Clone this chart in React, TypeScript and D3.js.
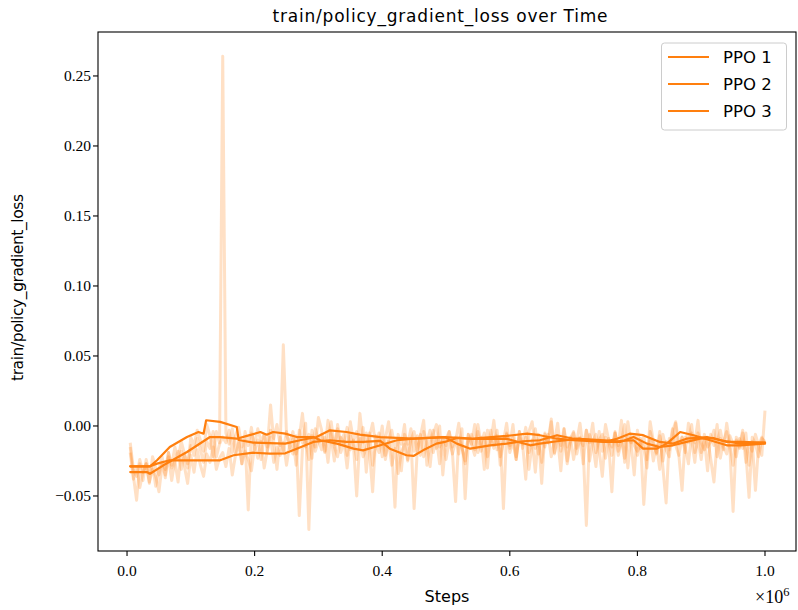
import React from "react";
import * as d3 from "d3";

const W = 798;
const H = 610;
const M = { left: 98, right: 796, top: 32, bottom: 551 };

const titleText = "train/policy_gradient_loss over Time";
const xLabel = "Steps";
const yLabel = "train/policy_gradient_loss";
const seriesNames = ["PPO 1", "PPO 2", "PPO 3"];
const xTicks = [0, 0.2, 0.4, 0.6, 0.8, 1.0];
const yTicks = [-0.05, 0, 0.05, 0.1, 0.15, 0.2, 0.25];

// raw logged values, 200 per run, evenly spaced from 0.005M to 1.0M steps
const raw1 = [
  -.012,-.031,-.036,-.024,-.033,-.027,-.041,-.022,-.030,-.035,
  -.026,-.031,-.019,-.028,-.015,-.024,-.011,-.020,-.030,-.008,
  -.014,-.003,-.010,-.018,.001,-.007,-.022,-.004,-.012,.264,
  -.005,-.013,-.002,-.020,-.009,-.027,-.004,-.014,-.001,-.017,
  -.010,-.024,-.006,-.015,.015,-.011,-.031,-.008,-.018,-.004,
  -.016,-.009,-.028,-.003,-.012,.002,-.074,-.007,-.015,.006,
  -.003,-.018,.004,-.009,-.025,.001,-.012,-.006,-.021,.003,
  -.011,-.004,-.016,-.001,-.033,-.008,.002,-.014,-.005,-.022,
  -.009,.003,-.017,-.058,-.006,-.013,.001,-.024,-.010,-.004,
  -.019,-.007,.004,-.028,-.012,-.003,-.016,.000,-.035,-.009,
  -.004,-.020,-.011,.002,-.015,-.027,-.006,-.013,.001,-.019,
  -.008,-.031,-.003,-.012,.004,-.017,-.009,-.059,-.005,-.014,
  .001,-.022,-.008,-.013,-.038,-.004,.003,-.016,-.010,-.026,
  -.006,-.012,.005,-.019,-.009,-.032,-.002,-.015,-.008,-.024,
  -.011,.002,-.017,-.071,-.006,-.013,-.029,-.004,-.018,.001,
  -.010,-.021,-.005,-.014,.004,-.026,-.008,-.012,-.035,-.003,
  -.016,-.007,-.024,.003,-.011,-.019,-.004,-.030,-.055,-.009,
  -.013,.002,-.021,-.008,-.015,-.027,-.005,-.012,.004,-.019,
  -.009,-.032,-.006,-.014,.001,-.023,-.011,-.004,-.017,-.061,
  -.008,-.015,-.003,-.026,-.012,-.018,-.006,-.014,-.021,.011,
];
const raw2 = [
  -.019,-.038,-.029,-.044,-.033,-.027,-.040,-.031,-.036,-.047,
  -.028,-.035,-.022,-.039,-.025,-.018,-.031,-.020,-.027,-.014,
  -.021,-.009,-.017,-.026,-.011,-.016,-.004,-.022,-.013,-.008,
  -.012,-.003,-.019,-.007,-.001,-.015,-.010,-.060,-.005,-.013,
  -.002,-.011,-.006,-.018,-.003,-.009,.001,-.014,.058,-.007,
  -.012,-.004,-.020,-.008,.009,-.015,-.006,-.023,-.002,-.010,
  -.017,-.008,-.026,-.005,-.013,-.002,-.019,-.011,-.030,-.007,
  -.014,-.050,-.009,-.022,-.016,-.005,-.028,-.012,-.019,-.008,
  -.024,-.010,-.003,-.016,-.009,-.032,-.006,-.013,-.002,-.018,
  -.007,-.021,-.004,-.012,-.029,-.006,.001,-.015,-.010,-.024,
  -.011,-.019,-.054,-.008,-.016,-.025,-.006,-.013,-.021,-.004,
  -.018,-.009,-.030,-.003,-.014,-.007,-.022,-.011,.002,-.016,
  -.008,-.024,-.004,-.013,-.001,-.019,-.010,-.033,-.006,-.041,
  -.005,-.012,.003,-.020,-.007,-.014,-.002,-.025,-.009,-.004,
  -.016,-.008,-.027,-.003,-.012,.002,-.019,-.010,-.006,-.023,
  -.009,-.015,-.004,-.021,-.011,.001,-.030,-.007,-.014,-.018,
  -.012,-.056,-.020,-.009,-.025,-.014,-.031,-.006,-.017,-.022,
  -.004,.003,-.013,-.008,-.019,.002,-.010,-.026,-.005,-.012,
  -.017,-.008,-.024,-.040,-.011,-.003,-.015,-.020,-.007,-.013,
  -.022,-.009,-.016,-.005,-.028,-.011,-.046,-.014,-.008,-.013,
];
const raw3 = [
  -.015,-.036,-.053,-.027,-.039,-.024,-.034,-.028,-.043,-.031,
  -.022,-.037,-.019,-.030,-.025,-.040,-.018,-.029,-.041,-.021,
  -.033,-.017,-.028,-.036,-.020,-.026,-.015,-.031,-.023,-.019,
  -.029,-.016,-.035,-.021,-.012,-.027,-.018,-.024,-.032,-.014,
  -.023,-.011,-.030,-.017,-.008,-.026,-.015,-.021,-.012,-.028,
  -.013,-.020,-.007,-.064,-.016,-.010,-.024,-.003,-.018,-.011,
  -.006,-.019,-.010,.003,-.015,-.022,-.008,-.013,-.001,-.017,
  -.010,-.024,.009,-.012,-.005,-.018,-.047,-.007,-.014,.000,
  -.021,-.011,-.028,-.016,-.034,-.019,-.013,-.025,-.009,-.059,
  -.017,-.006,-.022,-.012,-.003,-.019,-.009,-.027,-.008,-.014,
  -.004,-.015,-.008,-.020,-.002,-.052,-.011,-.006,-.017,.001,
  -.013,-.005,-.022,-.009,-.016,-.003,-.028,-.010,-.006,-.019,
  -.011,-.024,-.004,-.016,-.008,-.031,-.013,-.002,-.020,-.009,
  -.015,-.006,-.022,-.011,.002,-.018,-.008,-.027,-.012,-.005,
  -.020,-.009,-.014,-.003,-.025,-.011,-.006,-.017,-.036,-.008,
  -.013,-.047,-.005,-.018,-.010,-.023,.003,-.012,-.007,-.021,
  -.009,-.016,-.030,-.004,-.013,-.020,-.007,-.025,-.011,-.017,
  -.002,-.014,-.021,-.046,-.008,-.012,.001,-.019,-.010,-.024,
  -.006,-.015,-.011,-.003,-.022,-.009,-.017,.002,-.013,-.028,
  -.010,-.016,-.005,-.019,-.051,-.008,-.013,-.022,-.009,-.011,
];

// smoothed curves: [step (millions), value]
const smooth1: [number, number][] = [[0.005,-0.0288],[0.036,-0.0288],[0.047,-0.0245],[0.067,-0.015],[0.094,-0.0079],[0.112,-0.0043],[0.120,-0.0055],[0.124,0.0041],[0.146,0.0029],[0.172,-0.0007],[0.175,-0.0100],[0.198,-0.0119],[0.248,-0.0126],[0.271,-0.0102],[0.297,-0.0079],[0.318,-0.0031],[0.344,-0.0043],[0.365,-0.0062],[0.397,-0.0079],[0.449,-0.0091],[0.498,-0.0079],[0.542,-0.0091],[0.595,-0.0071],[0.627,-0.0055],[0.647,-0.0066],[0.674,-0.0091],[0.700,-0.0102],[0.749,-0.0114],[0.768,-0.0091],[0.788,-0.0055],[0.809,-0.0066],[0.835,-0.0114],[0.856,-0.0126],[0.877,-0.0091],[0.909,-0.0079],[0.930,-0.0102],[0.961,-0.0126],[1.0,-0.0119]];
const smooth2: [number, number][] = [[0.005,-0.0329],[0.031,-0.0329],[0.036,-0.0341],[0.057,-0.0281],[0.094,-0.0186],[0.130,-0.0079],[0.146,-0.0079],[0.172,-0.0091],[0.188,-0.0071],[0.209,-0.0043],[0.219,-0.0062],[0.229,-0.0043],[0.248,-0.0055],[0.266,-0.0079],[0.292,-0.0079],[0.303,-0.0102],[0.329,-0.0126],[0.355,-0.0162],[0.370,-0.0174],[0.397,-0.0138],[0.423,-0.0102],[0.449,-0.0091],[0.498,-0.0079],[0.517,-0.0126],[0.538,-0.0162],[0.569,-0.0138],[0.595,-0.0126],[0.621,-0.0109],[0.647,-0.0102],[0.674,-0.0066],[0.700,-0.0091],[0.749,-0.0102],[0.768,-0.0109],[0.794,-0.0102],[0.809,-0.0162],[0.830,-0.0162],[0.846,-0.0126],[0.867,-0.0043],[0.888,-0.0066],[0.914,-0.0102],[0.940,-0.0138],[0.961,-0.0138],[1.0,-0.0126]];
const smooth3: [number, number][] = [[0.005,-0.0288],[0.036,-0.0288],[0.047,-0.0269],[0.067,-0.0245],[0.120,-0.0245],[0.146,-0.0245],[0.167,-0.0209],[0.198,-0.0191],[0.224,-0.0198],[0.248,-0.0195],[0.266,-0.0162],[0.292,-0.0114],[0.318,-0.0102],[0.344,-0.0114],[0.370,-0.0114],[0.397,-0.0107],[0.412,-0.0162],[0.438,-0.0209],[0.449,-0.0214],[0.464,-0.0174],[0.485,-0.0126],[0.498,-0.0114],[0.517,-0.0086],[0.542,-0.0093],[0.595,-0.0091],[0.632,-0.0138],[0.647,-0.0126],[0.674,-0.0109],[0.710,-0.0091],[0.749,-0.0114],[0.773,-0.0114],[0.794,-0.0079],[0.815,-0.0126],[0.835,-0.0150],[0.856,-0.0138],[0.877,-0.0114],[0.898,-0.0091],[0.919,-0.0086],[0.940,-0.0114],[0.961,-0.0114],[1.0,-0.0119]];

const rawSeries = [raw1, raw2, raw3];
const smoothSeries = [smooth1, smooth2, smooth3];
const COLOR = "#ff7f0e";

const x = d3.scaleLinear().domain([-0.0455, 1.0486]).range([M.left, M.right]);
const y = d3.scaleLinear().domain([-0.0893, 0.2814]).range([M.bottom, M.top]);

const serif = "'Liberation Serif', 'DejaVu Serif', serif";
const sans = "'DejaVu Sans', 'Liberation Sans', sans-serif";

function fmtY(v: number) {
  const s = Math.abs(v).toFixed(2);
  return v < -1e-9 ? "\u2212" + s : s;
}

export default function App() {
  const rawLine = d3
    .line<number>()
    .x((_, i, arr) => x(0.005 + (i * 0.995) / ((arr as number[]).length - 1)))
    .y((d) => y(d));
  const smLine = d3
    .line<[number, number]>()
    .x((d) => x(d[0]))
    .y((d) => y(d[1]));

  return (
    <svg
      width={W}
      height={H}
      style={{ position: "absolute", left: 0, top: 0, background: "#fff" }}
    >
      <rect x={0} y={0} width={W} height={H} fill="#fff" />
      <defs>
        <clipPath id="plotclip">
          <rect x={M.left} y={M.top} width={M.right - M.left} height={M.bottom - M.top} />
        </clipPath>
      </defs>
      <g clipPath="url(#plotclip)">
        {rawSeries.map((r, k) => (
          <path
            key={"r" + k}
            d={rawLine(r) || ""}
            fill="none"
            stroke={COLOR}
            strokeOpacity={0.24}
            strokeWidth={3}
            strokeLinejoin="round"
          />
        ))}
        {smoothSeries.map((s, k) => (
          <path
            key={"s" + k}
            d={smLine(s) || ""}
            fill="none"
            stroke={COLOR}
            strokeWidth={2.2}
            strokeLinejoin="round"
            strokeLinecap="round"
          />
        ))}
      </g>
      <rect
        x={M.left}
        y={M.top}
        width={M.right - M.left}
        height={M.bottom - M.top}
        fill="none"
        stroke="#000"
        strokeWidth={1.1}
      />
      {xTicks.map((t) => (
        <g key={"xt" + t}>
          <line x1={x(t)} x2={x(t)} y1={M.bottom} y2={M.bottom + 5} stroke="#000" strokeWidth={1.1} />
          <text x={x(t)} y={M.bottom + 25} textAnchor="middle" fontFamily={serif} fontSize={15.5} fill="#000">
            {t.toFixed(1)}
          </text>
        </g>
      ))}
      {yTicks.map((t) => (
        <g key={"yt" + t}>
          <line x1={M.left - 5} x2={M.left} y1={y(t)} y2={y(t)} stroke="#000" strokeWidth={1.1} />
          <text x={M.left - 7} y={y(t) + 5} textAnchor="end" fontFamily={serif} fontSize={15.5} fill="#000">
            {fmtY(t)}
          </text>
        </g>
      ))}
      <text x={447} y={H - 8} textAnchor="middle" fontFamily={sans} fontSize={16} fill="#000">
        {xLabel}
      </text>
      <text x={755} y={H - 7} fontFamily={serif} fontSize={18} fill="#000">
        ×10<tspan dy={-7} fontSize={12.5}>6</tspan>
      </text>
      <text
        transform={`translate(23, ${(M.top + M.bottom) / 2 - 4}) rotate(-90)`}
        textAnchor="middle"
        fontFamily={sans}
        fontSize={15.5}
        fill="#000"
        textLength={187}
      >
        {yLabel}
      </text>
      <text
        x={(M.left + M.right) / 2 - 7}
        y={22}
        textAnchor="middle"
        fontFamily={sans}
        fontSize={17}
        fill="#000"
        textLength={335}
      >
        {titleText}
      </text>
      <g>
        <rect x={661.5} y={43} width={125} height={87} rx={3} fill="#fff" fillOpacity={0.8} stroke="#cccccc" strokeWidth={1} />
        {seriesNames.map((n, i) => (
          <g key={n}>
            <line x1={668} x2={709} y1={57 + i * 27} y2={57 + i * 27} stroke={COLOR} strokeWidth={2.2} />
            <text x={723} y={57 + i * 27 + 6} fontFamily={sans} fontSize={16.5} fill="#000">
              {n}
            </text>
          </g>
        ))}
      </g>
    </svg>
  );
}
